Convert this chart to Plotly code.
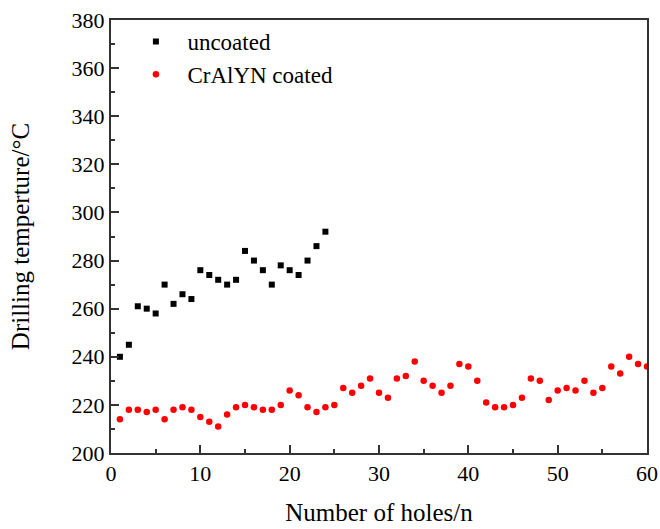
import plotly.graph_objects as go

holes_uncoated = list(range(1, 25))
temp_uncoated = [240, 245, 261, 260, 258, 270, 262, 266, 264, 276, 274, 272,
                 270, 272, 284, 280, 276, 270, 278, 276, 274, 280, 286, 292]

holes_coated = list(range(1, 61))
temp_coated = [214, 218, 218, 217, 218, 214, 218, 219, 218, 215,
               213, 211, 216, 219, 220, 219, 218, 218, 220, 226,
               224, 219, 217, 219, 220, 227, 225, 228, 231, 225,
               223, 231, 232, 238, 230, 228, 225, 228, 237, 236,
               230, 221, 219, 219, 220, 223, 231, 230, 222, 226,
               227, 226, 230, 225, 227, 236, 233, 240, 237, 236]

x_ticks = [0, 10, 20, 30, 40, 50, 60]
y_ticks = [200, 220, 240, 260, 280, 300, 320, 340, 360, 380]

FONT = "Liberation Serif"
AX = "#333333"

fig = go.Figure()
fig.add_trace(go.Scatter(x=holes_uncoated, y=temp_uncoated, mode="markers",
                         name="uncoated",
                         marker=dict(symbol="square", size=6, color="black")))
fig.add_trace(go.Scatter(x=holes_coated, y=temp_coated, mode="markers",
                         name="CrAlYN coated",
                         marker=dict(symbol="circle", size=6.5, color="#ff0000")))

axis_common = dict(showgrid=False, zeroline=False, showline=True, linecolor=AX,
                   linewidth=2, mirror=True, ticks="inside", ticklen=8,
                   tickwidth=1.5, tickcolor=AX, automargin=False,
                   tickfont=dict(family=FONT, size=22, color="black"))

fig.update_xaxes(range=[0, 60], tickvals=x_ticks, **axis_common,
                 minor=dict(ticks="inside", ticklen=4, tickwidth=1.5,
                            tickcolor=AX, dtick=5),
                 title=dict(text="Number of holes/n",
                            font=dict(family=FONT, size=25, color="black"),
                            standoff=18))
fig.update_yaxes(range=[200, 380], tickvals=y_ticks, **axis_common,
                 minor=dict(ticks="inside", ticklen=4, tickwidth=1.5,
                            tickcolor=AX, dtick=10),
                 title=dict(text="Drilling temperture/°C",
                            font=dict(family=FONT, size=25, color="black"),
                            standoff=35))

fig.update_layout(
    width=660, height=529,
    margin=dict(l=111, r=13, t=20, b=76),
    plot_bgcolor="white", paper_bgcolor="white",
    legend=dict(x=0.025, y=1.0, xanchor="left", yanchor="top",
                bgcolor="rgba(0,0,0,0)",
                font=dict(family=FONT, size=23, color="black"),
                tracegroupgap=0, itemsizing="trace", itemwidth=53),
)

fig.write_html("out.html")
